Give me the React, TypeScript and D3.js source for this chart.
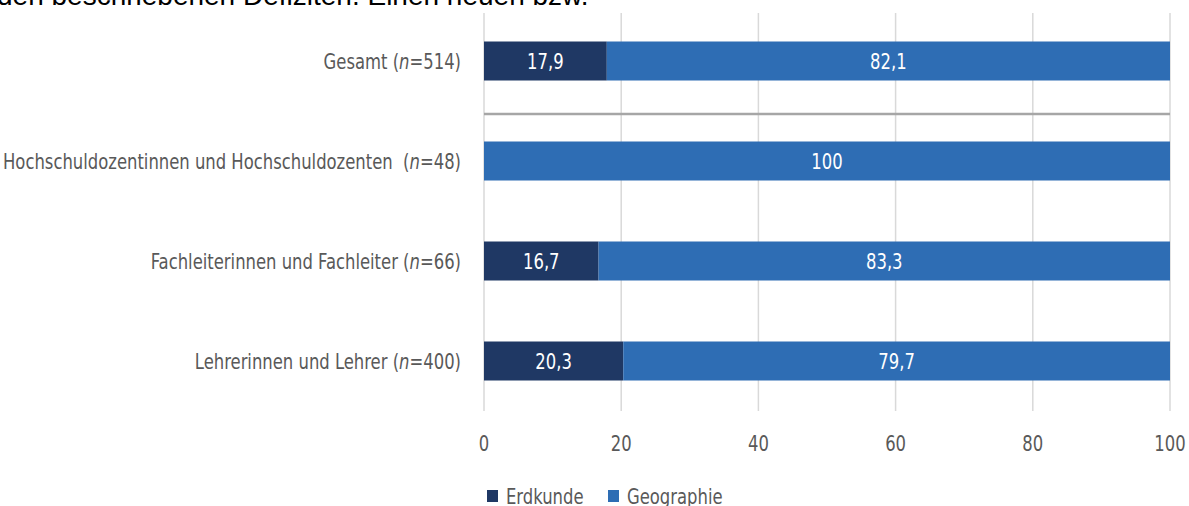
import React from "react";
import * as d3 from "d3";

const categories = [
  "Gesamt",
  "Hochschuldozentinnen und Hochschuldozenten\u00a0",
  "Fachleiterinnen und Fachleiter",
  "Lehrerinnen und Lehrer",
];
const sampleSizes = [514, 48, 66, 400];
const erdkunde = [17.9, 0, 16.7, 20.3];
const geographie = [82.1, 100, 83.3, 79.7];
const seriesNames = ["Erdkunde", "Geographie"];
const seriesColors = ["#1f3864", "#2e6db4"];
const xTicks = [0, 20, 40, 60, 80, 100];

const W = 1189;
const H = 506;
const FONT = "'DejaVu Sans Condensed', 'DejaVu Sans', sans-serif";
const TEXT = "#595959";
const SX = 0.83;
const FS = 22;

const fmt = (v: number) => (Number.isInteger(v) ? String(v) : v.toFixed(1).replace(".", ","));

// Condensed label: horizontally squeezed text anchored at (x, y)
function T({
  x,
  y,
  anchor = "start",
  fill = TEXT,
  children,
}: {
  x: number;
  y: number;
  anchor?: "start" | "middle" | "end";
  fill?: string;
  children: React.ReactNode;
}) {
  return (
    <g transform={`translate(${x},${y}) scale(${SX},1)`}>
      <text x={0} y={0} dy="0.36em" textAnchor={anchor} fontFamily={FONT} fontSize={FS} fill={fill}>
        {children}
      </text>
    </g>
  );
}

export default function App() {
  const x = d3.scaleLinear().domain([0, 100]).range([484, 1170]);
  const y = d3.scaleBand().domain(categories).range([11, 411]).paddingInner(0.61).paddingOuter(0.305);
  const bh = y.bandwidth();

  const stacks = d3
    .stack<number>()
    .keys(["0", "1"])
    .value((i, k) => (k === "0" ? erdkunde[i] : geographie[i]))(categories.map((_, i) => i));

  const sepY = (y(categories[0])! + bh + y(categories[1])!) / 2 + 3;

  return (
    <svg width={W} height={H} style={{ position: "absolute", left: 0, top: 0, background: "#fff" }}>
      <text x={-3} y={5} fontFamily="'Liberation Sans', Arial, sans-serif" fontSize={28} fill="#000">
        den beschriebenen Defiziten. Einen neuen bzw.
      </text>

      {xTicks.map((t) => (
        <line key={t} x1={x(t)} x2={x(t)} y1={13} y2={411} stroke="#d9d9d9" strokeWidth={1.5} />
      ))}

      <line x1={x(0)} x2={x(100)} y1={sepY} y2={sepY} stroke="#a6a6a6" strokeWidth={2.5} />

      {stacks.map((layer, si) =>
        layer.map((d, i) => {
          const w = x(d[1]) - x(d[0]);
          if (w <= 0) return null;
          const cy = y(categories[i])! + bh / 2;
          const v = si === 0 ? erdkunde[i] : geographie[i];
          return (
            <g key={`${si}-${i}`}>
              <rect x={x(d[0])} y={y(categories[i])} width={w} height={bh} fill={seriesColors[si]} />
              <T x={x(d[0]) + w / 2} y={cy} anchor="middle" fill="#fff">
                {fmt(v)}
              </T>
            </g>
          );
        })
      )}

      {categories.map((c, i) => (
        <T key={c} x={461} y={y(c)! + bh / 2} anchor="end">
          {c} (<tspan fontStyle="italic">n</tspan>={sampleSizes[i]})
        </T>
      ))}

      {xTicks.map((t) => (
        <T key={t} x={x(t)} y={443} anchor="middle">
          {t}
        </T>
      ))}

      {seriesNames.map((s, i) => {
        const lx = [487, 608][i];
        return (
          <g key={s}>
            <rect x={lx} y={490} width={11} height={12} fill={seriesColors[i]} />
            <T x={lx + 19} y={496}>
              {s}
            </T>
          </g>
        );
      })}
    </svg>
  );
}
